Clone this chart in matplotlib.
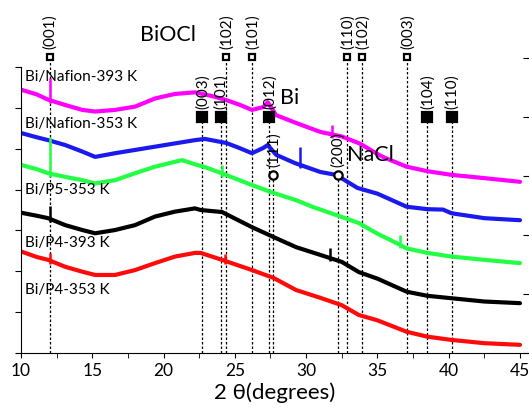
"""
XRD patterns of the Bi electrodes (stacked, offset), with BiOCl / Bi / NaCl
reference reflections marked as dotted drop lines.
"""

import numpy as np
import matplotlib
matplotlib.use("Agg")
import matplotlib.pyplot as plt
from matplotlib.ticker import MultipleLocator

plt.rcParams["font.family"] = ["Lato", "DejaVu Sans"]

# ---- data (2theta in degrees, intensity offset in a.u.) --------------------
x_n393 = [10.05, 11.1, 11.9, 13.1, 14.3, 15.2, 16.6, 18.0, 19.4, 20.8, 22.2,
          23.5, 24.4, 25.3, 26.2, 27.0, 27.3, 27.9, 29.3, 31.0, 32.5, 33.8,
          35.0, 35.5, 37.05, 38.5, 40.2, 42.5, 45.0]
y_n393 = [6.44, 6.33, 6.20, 6.07, 5.95, 5.91, 5.95, 6.03, 6.23, 6.34, 6.38,
          6.28, 6.19, 6.08, 5.95, 6.02, 6.14, 5.82, 5.63, 5.41, 5.30, 5.12,
          4.87, 4.78, 4.56, 4.45, 4.36, 4.28, 4.19]
spk_x_n393 = [12.0, 31.8]
spk_y_n393 = [6.73, 5.58]

x_n353 = [10.05, 11.1, 11.9, 13.1, 14.3, 15.2, 16.6, 18.0, 19.4, 20.8, 22.2,
          22.9, 24.4, 25.3, 26.2, 27.0, 27.3, 27.9, 29.2, 31.0, 32.1, 33.6,
          35.0, 37.05, 38.5, 39.6, 40.2, 42.5, 45.0]
y_n353 = [5.38, 5.28, 5.21, 5.09, 4.93, 4.80, 4.89, 4.97, 5.05, 5.13, 5.21,
          5.24, 5.14, 5.02, 4.89, 5.02, 5.09, 4.85, 4.65, 4.43, 4.36, 4.04,
          3.90, 3.58, 3.52, 3.51, 3.42, 3.30, 3.25]
spk_x_n353 = [29.6]
spk_y_n353 = [5.04]

x_p5 = [10.05, 11.1, 11.9, 13.1, 14.3, 15.2, 16.6, 18.0, 19.4, 20.8, 21.3,
        22.2, 22.9, 24.0, 26.2, 27.7, 29.3, 30.5, 32.5, 33.7, 35.0, 36.4,
        37.05, 38.5, 40.2, 42.5, 45.0]
y_p5 = [4.60, 4.50, 4.40, 4.31, 4.23, 4.15, 4.23, 4.40, 4.56, 4.68, 4.72,
        4.62, 4.55, 4.41, 4.11, 3.92, 3.74, 3.57, 3.33, 3.18, 2.92, 2.68,
        2.56, 2.45, 2.36, 2.28, 2.20]
spk_x_p5 = [12.0, 24.1, 36.6]
spk_y_p5 = [5.29, 4.60, 2.89]

x_p4_393 = [10.05, 11.1, 11.9, 13.1, 14.3, 15.2, 16.6, 18.0, 19.4, 20.8,
            22.2, 22.6, 24.1, 26.2, 27.7, 29.3, 31.0, 32.5, 33.7, 35.0,
            37.05, 38.5, 40.2, 42.5, 45.0]
y_p4_393 = [3.43, 3.36, 3.30, 3.13, 3.01, 2.93, 3.01, 3.13, 3.34, 3.46,
            3.54, 3.50, 3.45, 3.08, 2.84, 2.59, 2.40, 2.23, 1.98, 1.82,
            1.50, 1.40, 1.34, 1.26, 1.22]
spk_x_p4_393 = [12.0, 31.7]
spk_y_p4_393 = [3.60, 2.57]

x_p4_353 = [10.05, 11.1, 11.9, 13.1, 14.3, 15.2, 16.6, 18.0, 19.4, 20.8,
            22.2, 22.6, 24.1, 26.2, 27.7, 29.3, 31.0, 32.5, 33.7, 35.0,
            37.05, 38.5, 40.2, 42.5, 45.0]
y_p4_353 = [2.48, 2.35, 2.28, 2.11, 1.99, 1.91, 1.91, 2.03, 2.20, 2.36,
            2.45, 2.45, 2.28, 2.03, 1.84, 1.54, 1.35, 1.17, 0.93, 0.80,
            0.52, 0.40, 0.32, 0.24, 0.20]
spk_x_p4_353 = [12.0, 24.3]
spk_y_p4_353 = [2.45, 2.42]

series_names = ["Bi/Nafion-393 K", "Bi/Nafion-353 K", "Bi/P5-353 K",
                "Bi/P4-393 K", "Bi/P4-353 K"]

# reference reflections
biocl_pos = [12.0, 24.4, 26.2, 32.9, 33.9, 37.1]
biocl_hkl = ["(001)", "(102)", "(101)", "(110)", "(102)", "(003)"]
bi_pos = [22.7, 24.0, 27.4, 38.5, 40.2]
bi_hkl = ["(003)", "(101)", "(012)", "(104)", "(110)"]
nacl_pos = [27.7, 32.2]
nacl_hkl = ["(111)", "(200)"]

# ---- style -----------------------------------------------------------------
COLORS = ["#ff00ff", "#1a1aee", "#22ff44", "#000000", "#ff0a0a"]
LABEL_Y = [6.75, 5.60, 3.99, 2.69, 1.54]
W, H, DPI = 529, 415, 100


def _refs(ax, pos, hkl, y_mark, marker, fill, ms):
    for x, lab in zip(pos, hkl):
        ax.plot([x, x], [0, y_mark], color="black", lw=0.9,
                ls=(0, (2, 1.6)), zorder=1, clip_on=False)
        ax.plot([x], [y_mark], marker=marker, ms=ms, mfc=fill, mec="black",
                mew=1.6, zorder=4, clip_on=False)
        ax.text(x + 0.05, y_mark + 0.2, lab, rotation=90, ha="center",
                va="bottom", fontsize=11, zorder=5)


fig = plt.figure(figsize=(W / DPI, H / DPI), dpi=DPI)
ax = fig.add_axes([21 / W, 62 / H, 508 / W, 286 / H])

curves = [(x_n393, y_n393, spk_x_n393, spk_y_n393),
          (x_n353, y_n353, spk_x_n353, spk_y_n353),
          (x_p5, y_p5, spk_x_p5, spk_y_p5),
          (x_p4_393, y_p4_393, spk_x_p4_393, spk_y_p4_393),
          (x_p4_353, y_p4_353, spk_x_p4_353, spk_y_p4_353)]
for (xs, ys, sx, sy), c in zip(curves, COLORS):
    ax.plot(xs, ys, color=c, lw=3, zorder=2, solid_joinstyle="round",
            solid_capstyle="round")
    # sharp reflections: thin spikes standing on the broad background
    base = np.interp(sx, xs, ys) - 0.08
    ax.vlines(sx, base, sy, color=c, lw=1.8, zorder=2)

for name, ly in zip(series_names, LABEL_Y):
    ax.text(10.3, ly, name, fontsize=11, va="center", ha="left", zorder=6)

_refs(ax, biocl_pos, biocl_hkl, 7.24, "s", "white", 5)
_refs(ax, bi_pos, bi_hkl, 5.78, "s", "black", 6.5)
_refs(ax, nacl_pos, nacl_hkl, 4.36, "o", "white", 6)

ax.text(18.35, 7.78, "BiOCl", fontsize=15.5, va="center", ha="left")
ax.text(28.2, 6.24, "Bi", fontsize=15.5, va="center", ha="left")
ax.text(32.9, 4.85, "NaCl", fontsize=15.5, va="center", ha="left")

ax.set_xlim(10, 10 + 508 / 14.257)
ax.set_ylim(0, 7)
ax.xaxis.set_major_locator(MultipleLocator(5))
ax.xaxis.set_minor_locator(MultipleLocator(2.5))
ax.yaxis.set_major_locator(MultipleLocator(1))
ax.set_yticklabels([])
ax.tick_params(axis="x", which="both", direction="out", length=3.5,
               labelsize=12.5, pad=4)
ax.tick_params(axis="y", direction="out", length=4.5)
for s in ("top", "right"):
    ax.spines[s].set_visible(False)
ax.set_xlabel("2 θ(degrees)", fontsize=16, labelpad=2)

# tick marks of the cut-off right axis
ax_r = fig.add_axes([0.99, 62 / H, 0.01, 295 / H])
ax_r.set_ylim(0, 5)
ax_r.yaxis.tick_right()
ax_r.set_yticks(range(6))
ax_r.set_yticklabels([])
ax_r.set_xticks([])
ax_r.tick_params(axis="y", direction="in", length=4)
ax_r.patch.set_visible(False)
for s in ax_r.spines.values():
    s.set_visible(False)

fig.savefig("out.png", dpi=DPI)
